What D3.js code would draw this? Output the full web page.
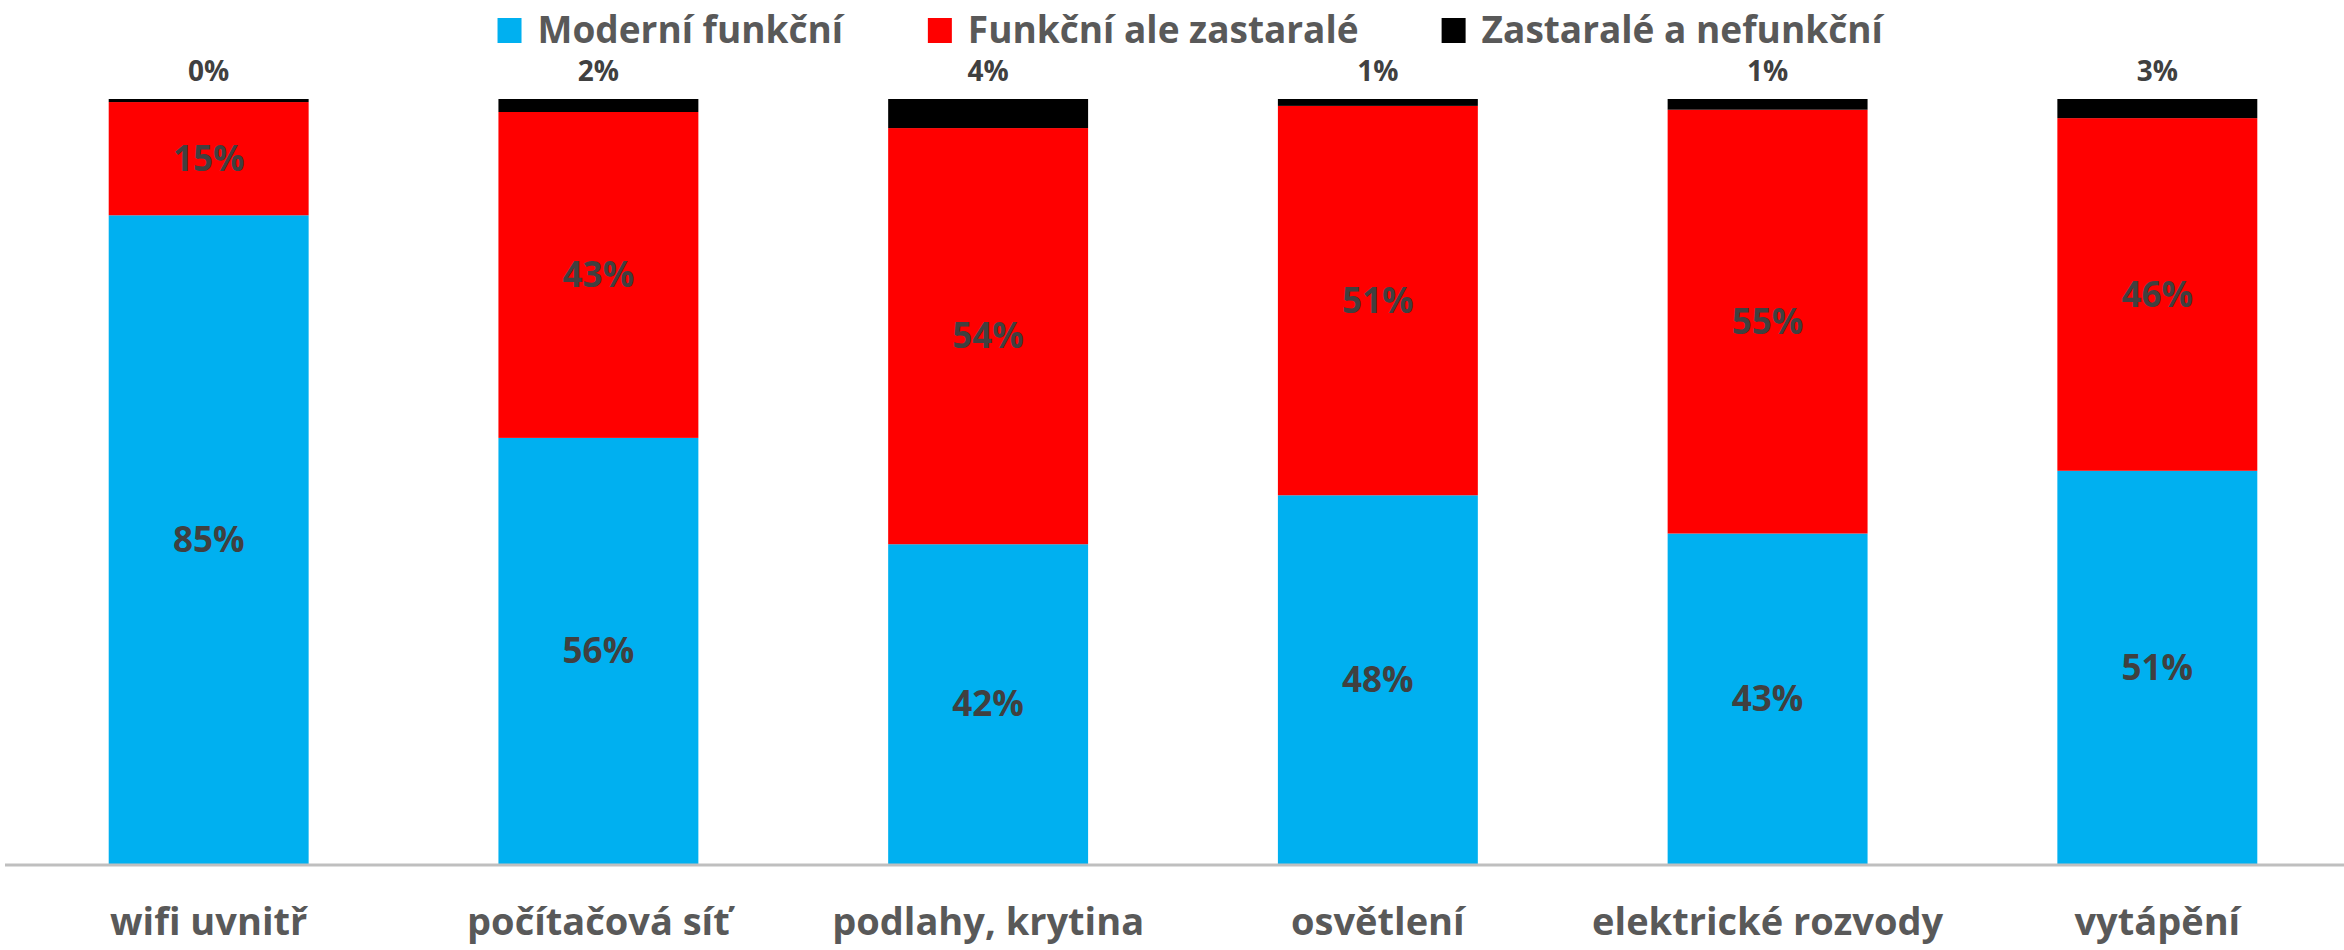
<html>
<head>
<meta charset="utf-8">
<script src="https://d3js.org/d3.v7.min.js"></script>
<style>
    body { margin: 0; background: #fff; }
    text { font-family: "Open Sans", sans-serif; font-weight: bold; }
</style>
</head>
<body>
<svg width=2344 height=950></svg>
<script>
    // categories and the three series (percent of schools)
    var categories = ["wifi uvnitř", "počítačová síť", "podlahy, krytina", "osvětlení", "elektrické rozvody", "vytápění"];
    var seriesNames = ["Moderní funkční", "Funkční ale zastaralé", "Zastaralé a nefunkční"];
    var modern = [84.8, 55.7, 41.8, 48.2, 43.2, 51.4];
    var outdated = [14.8, 42.6, 54.4, 50.9, 55.4, 46.1];
    var broken = [0.4, 1.7, 3.8, 0.9, 1.4, 2.5];
    var colors = ["#00b0f0", "#ff0000", "#000000"];

    var svg = d3.select("svg");

    var rows = categories.map(function (c, i) {
        return { cat: c, s0: modern[i], s1: outdated[i], s2: broken[i] };
    });
    var stack = d3.stack().keys(["s0", "s1", "s2"])(rows);

    var xs = d3.scaleBand().domain(categories).range([14, 2352]).paddingInner(0.487).paddingOuter(0.243);
    var ys = d3.scaleLinear().domain([0, 100]).range([864, 99]);
    var fmt = function (v) { return Math.round(v) + "%"; };

    // bars
    svg.append("g").selectAll("g").data(stack).enter().append("g")
        .attr("fill", function (d, i) { return colors[i]; })
        .selectAll("rect").data(function (d) { return d; }).enter().append("rect")
        .attr("x", function (d) { return xs(d.data.cat); })
        .attr("y", function (d) { return ys(d[1]); })
        .attr("width", xs.bandwidth())
        .attr("height", function (d) { return ys(d[0]) - ys(d[1]); });

    // labels inside blue and red segments
    svg.append("g").selectAll("g").data(stack.slice(0, 2)).enter().append("g")
        .selectAll("text").data(function (d) { return d; }).enter().append("text")
        .attr("x", function (d) { return xs(d.data.cat) + xs.bandwidth() / 2; })
        .attr("y", function (d) { return (ys(d[0]) + ys(d[1])) / 2; })
        .attr("dy", "0.35em")
        .attr("text-anchor", "middle")
        .attr("fill", "#404040")
        .style("font-size", "35px")
        .text(function (d) { return fmt(d[1] - d[0]); });

    // labels for black segments above the bar
    svg.append("g").selectAll("text").data(stack[2]).enter().append("text")
        .attr("x", function (d) { return xs(d.data.cat) + xs.bandwidth() / 2; })
        .attr("y", function (d) { return ys(d[1]) - 18; })
        .attr("text-anchor", "middle")
        .attr("fill", "#404040")
        .style("font-size", "28px")
        .text(function (d) { return fmt(d[1] - d[0]); });

    // x axis
    var xAxis = svg.append("g")
        .attr("transform", "translate(0,865)")
        .call(d3.axisBottom(xs).tickSize(0).tickPadding(43));
    xAxis.select(".domain").attr("d", "M5,0H2344").attr("stroke", "#bfbfbf").attr("stroke-width", 3);
    xAxis.selectAll("text")
        .attr("fill", "#595959")
        .style("font-family", "'Open Sans', sans-serif")
        .style("font-weight", "bold")
        .style("font-size", "38px");

    // legend
    var legend = svg.append("g");
    var x = 0;
    var items = legend.selectAll("g").data(seriesNames).enter().append("g");
    items.append("rect").attr("y", -12).attr("width", 24).attr("height", 25)
        .attr("fill", function (d, i) { return colors[i]; });
    items.append("text").attr("x", 40).attr("dy", "0.35em")
        .attr("fill", "#595959")
        .style("font-size", "37px")
        .text(function (d) { return d; });
    items.each(function () {
        d3.select(this).attr("transform", "translate(" + x + ",0)");
        x += this.getBBox().width + 83;
    });
    var total = x - 83;
    legend.attr("transform", "translate(" + (1191 - total / 2) + ",30)");
</script>
</body>
</html>
